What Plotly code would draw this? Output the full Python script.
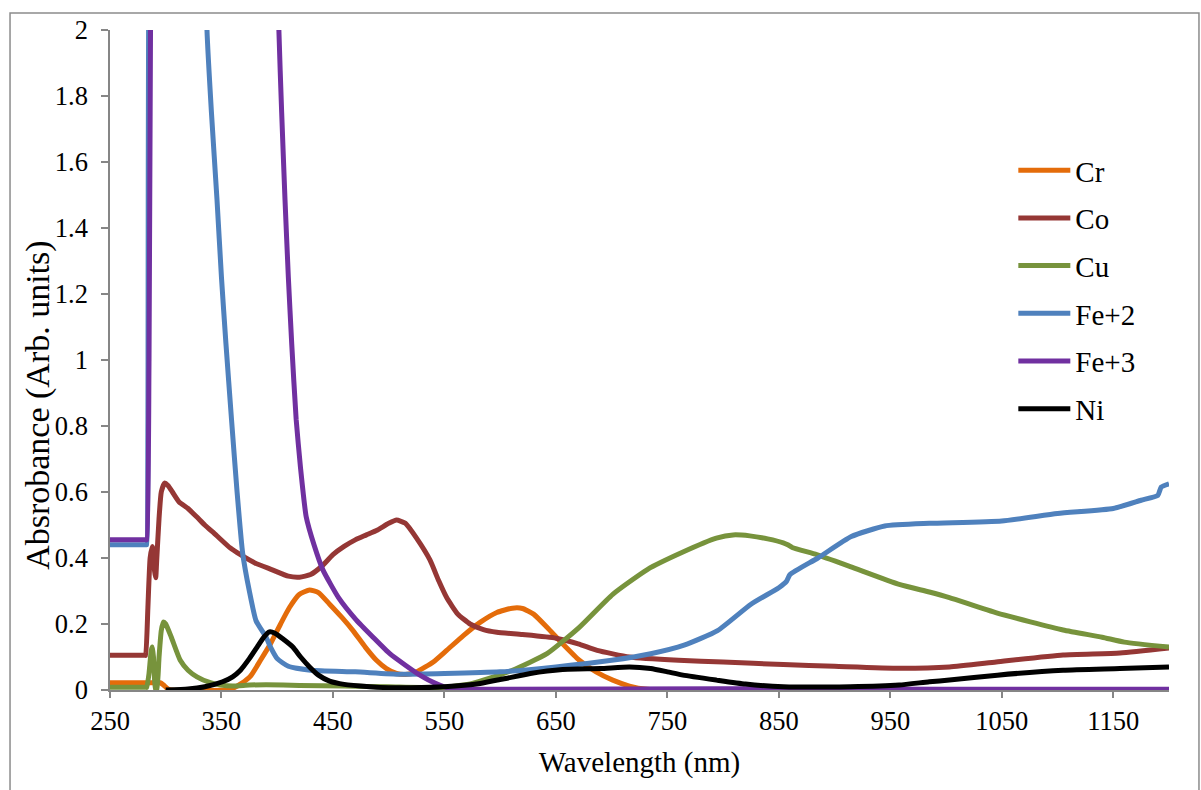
import plotly.graph_objects as go

# ---------------- data ----------------
cr_nm = [250, 290, 295, 298, 302, 305, 355, 360, 368, 376, 385, 394, 403, 411, 420, 429, 437,
         447, 458, 468, 479, 489, 498, 507, 515, 525, 540, 552, 567, 582, 597, 611, 620, 630,
         642, 656, 671, 686, 701, 716, 732, 750, 1200]
cr_abs = [0.022, 0.022, 0.022, 0.015, 0.003, 0.0, 0.0, 0.005, 0.02, 0.042, 0.09, 0.14, 0.2, 0.25,
          0.29, 0.303, 0.295, 0.26, 0.22, 0.18, 0.13, 0.09, 0.065, 0.05, 0.047, 0.055, 0.085,
          0.12, 0.165, 0.205, 0.235, 0.248, 0.247, 0.23, 0.19, 0.14, 0.09, 0.055, 0.03, 0.012,
          0.002, 0.0, 0.0]

co_nm = [250, 281.5, 282, 284, 286, 288, 289, 290, 291, 292, 294, 296, 299, 302, 306, 312, 320,
         328, 335, 345, 358, 367, 380, 395, 410, 420, 430, 440, 450, 460, 470, 480, 490, 500,
         507, 515, 525, 537, 545, 552, 562, 573, 585, 597, 620, 650, 670, 687, 716, 760, 800,
         854, 900, 958, 1003, 1045, 1105, 1156, 1200]
co_abs = [0.105, 0.105, 0.105, 0.25, 0.4, 0.435, 0.42, 0.36, 0.34, 0.4, 0.52, 0.6, 0.627, 0.62,
          0.6, 0.57, 0.55, 0.524, 0.5, 0.47, 0.43, 0.41, 0.385, 0.365, 0.345, 0.342, 0.35, 0.375,
          0.41, 0.435, 0.455, 0.47, 0.485, 0.505, 0.515, 0.505, 0.46, 0.394, 0.33, 0.28, 0.23,
          0.2, 0.183, 0.175, 0.168, 0.157, 0.14, 0.12, 0.1, 0.09, 0.085, 0.077, 0.072, 0.066,
          0.07, 0.085, 0.106, 0.112, 0.127]

cu_nm = [250, 282.5, 283, 285, 287, 288, 289, 290, 291, 292, 294, 296, 298, 300, 305, 313, 320,
         328, 340, 349, 360, 375, 390, 420, 460, 500, 550, 575, 590, 611, 642, 671, 701, 732,
         764, 794, 809, 824, 840, 854, 858, 862, 884, 914, 958, 985, 1003, 1046, 1105, 1140,
         1160, 1200]
cu_abs = [0.008, 0.008, 0.008, 0.05, 0.12, 0.13, 0.1, 0.03, 0.0, 0.0, 0.1, 0.18, 0.206, 0.2, 0.16,
          0.09, 0.06, 0.04, 0.022, 0.015, 0.012, 0.015, 0.016, 0.014, 0.012, 0.01, 0.008, 0.02,
          0.035, 0.06, 0.11, 0.19, 0.29, 0.365, 0.418, 0.46, 0.47, 0.467, 0.458, 0.446, 0.44,
          0.432, 0.41, 0.374, 0.32, 0.297, 0.28, 0.233, 0.182, 0.16, 0.145, 0.13]

fe2_nm = [250, 282.5, 283, 284, 286, 300, 330, 337, 341, 346, 350, 354, 359, 364, 369, 375, 381,
          390, 394, 400, 410, 430, 470, 510, 550, 600, 650, 700, 735, 765, 795, 825, 850, 857,
          860, 885, 915, 945, 985, 1050, 1100, 1150, 1175, 1190, 1193, 1200]
fe2_abs = [0.44, 0.44, 0.44, 0.8, 2.6, 3.5, 3.5, 2.0, 1.75, 1.485, 1.25, 1.05, 0.82, 0.6, 0.415,
           0.3, 0.21, 0.16, 0.13, 0.095, 0.072, 0.06, 0.055, 0.048, 0.05, 0.055, 0.07, 0.09,
           0.11, 0.136, 0.18, 0.26, 0.31, 0.33, 0.35, 0.4, 0.465, 0.497, 0.505, 0.512, 0.535,
           0.55, 0.575, 0.59, 0.615, 0.625]

fe3_nm = [250, 282.5, 283, 285, 287, 290, 395, 399, 401.5, 404, 407, 410, 413, 417, 421, 426, 433,
          441, 455, 471, 486, 501, 515, 528, 542, 556, 600, 800, 1000, 1200]
fe3_abs = [0.455, 0.455, 0.455, 1.0, 2.5, 3.5, 3.5, 2.5, 2.0, 1.75, 1.485, 1.25, 1.05, 0.82, 0.67,
           0.525, 0.44, 0.364, 0.28, 0.212, 0.16, 0.11, 0.075, 0.045, 0.02, 0.004, 0.002, 0.004,
           0.002, 0.002]

ni_nm = [300, 320, 335, 351, 360, 367, 375, 382, 388, 393, 398, 405, 414, 421, 429, 437, 447, 460,
         483, 500, 520, 550, 582, 605, 627, 656, 690, 716, 735, 750, 764, 794, 820, 854, 914,
         958, 985, 1003, 1046, 1105, 1156, 1200]
ni_abs = [0.0, 0.003, 0.01, 0.025, 0.04, 0.06, 0.095, 0.13, 0.16, 0.176, 0.172, 0.155, 0.13, 0.1,
          0.07, 0.045, 0.027, 0.017, 0.01, 0.007, 0.007, 0.01, 0.02, 0.035, 0.05, 0.062, 0.065,
          0.07, 0.065, 0.055, 0.045, 0.03, 0.018, 0.01, 0.01, 0.015, 0.025, 0.03, 0.045, 0.06,
          0.065, 0.07]

series_names = ["Cr", "Co", "Cu", "Fe+2", "Fe+3", "Ni"]
series_x = [cr_nm, co_nm, cu_nm, fe2_nm, fe3_nm, ni_nm]
series_y = [cr_abs, co_abs, cu_abs, fe2_abs, fe3_abs, ni_abs]
series_colors = ["#E46C0A", "#953735", "#77933C", "#4F81BD", "#7030A0", "#000000"]

x_tick_vals = [250, 350, 450, 550, 650, 750, 850, 950, 1050, 1150]
y_tick_vals = [0, 0.2, 0.4, 0.6, 0.8, 1.0, 1.2, 1.4, 1.6, 1.8, 2.0]
y_tick_text = ["0", "0.2", "0.4", "0.6", "0.8", "1", "1.2", "1.4", "1.6", "1.8", "2"]

FONT = "Liberation Serif"
AXIS_GRAY = "#868686"

fig = go.Figure()
for name, xs, ys, col in zip(series_names, series_x, series_y, series_colors):
    fig.add_trace(go.Scatter(x=xs, y=ys, mode="lines", name=name, legendgroup=name,
                             line=dict(color=col, width=5, shape="spline", smoothing=0.5)))

fig.update_layout(
    width=1201, height=790,
    margin=dict(l=110, r=32, t=30, b=100),
    paper_bgcolor="white", plot_bgcolor="white",
    font=dict(family=FONT, size=26.5, color="black"),
    showlegend=True,
    legend=dict(x=0.853, y=0.826, xanchor="left", yanchor="top",
                bgcolor="rgba(0,0,0,0)", font=dict(family=FONT, size=29),
                itemwidth=52, tracegroupgap=7, traceorder="grouped"),
    xaxis=dict(range=[250, 1200], tickvals=x_tick_vals, showgrid=False, zeroline=False,
               showline=True, linecolor=AXIS_GRAY, linewidth=1.5,
               ticks="outside", ticklen=6, tickcolor=AXIS_GRAY, tickwidth=1.5,
               tickfont=dict(family=FONT, size=26.5),
               title=dict(text="Wavelength (nm)", font=dict(family=FONT, size=29), standoff=17)),
    yaxis=dict(range=[0, 2], tickvals=y_tick_vals, ticktext=y_tick_text, showgrid=False,
               zeroline=False, showline=True, linecolor=AXIS_GRAY, linewidth=1.5,
               ticks="outside", ticklen=7, tickcolor=AXIS_GRAY, tickwidth=1.5,
               tickfont=dict(family=FONT, size=26.5), ticklabelstandoff=8),
    annotations=[dict(text="Absrobance (Arb. units)", xref="paper", yref="paper",
                      x=-0.068, y=0.432, xanchor="center", yanchor="middle", textangle=-90,
                      showarrow=False, font=dict(family=FONT, size=34, color="black"))],
    shapes=[dict(type="rect", xref="paper", yref="paper",
                 x0=-0.0944, x1=1.0283, y0=-0.17, y1=1.0258,
                 line=dict(color="#8C8C8C", width=1.5), fillcolor="rgba(0,0,0,0)",
                 layer="below")],
)

fig.write_html("out.html")
